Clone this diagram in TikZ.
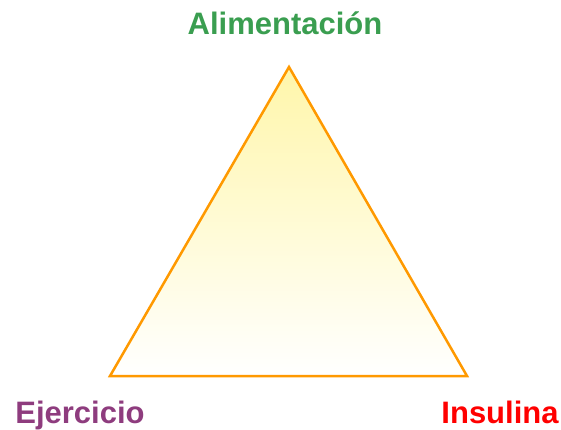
\documentclass[tikz,border=0pt]{standalone}
\usepackage{fontspec}
\setmainfont{Liberation Sans}
\definecolor{lblgreen}{RGB}{58,158,80}
\definecolor{lblpurple}{RGB}{142,60,126}
\definecolor{lblred}{RGB}{255,0,0}
\definecolor{triorange}{RGB}{255,153,0}
\definecolor{triyellow}{RGB}{255,246,170}
\begin{document}
\begin{tikzpicture}[x=1pt,y=1pt,
  lbl/.style={anchor=base,inner sep=0pt,font=\fontsize{31}{31}\selectfont\bfseries}]
\useasboundingbox (0,0) rectangle (561,429);
\coordinate (apex) at (289,362);
\coordinate (bl) at (110,53);
\coordinate (br) at (467,53);
\shade[top color=triyellow,bottom color=white] (apex) -- (bl) -- (br) -- cycle;
\draw[triorange,line width=2.5pt,line join=miter] (apex) -- (bl) -- (br) -- cycle;
\node[lbl,text=lblgreen] (ali) at (285,394) {Alimentación};
\node[lbl,text=lblpurple] (eje) at (80,6) {Ejercicio};
\node[lbl,text=lblred] (ins) at (500,6) {Insulina};
\end{tikzpicture}
\end{document}
